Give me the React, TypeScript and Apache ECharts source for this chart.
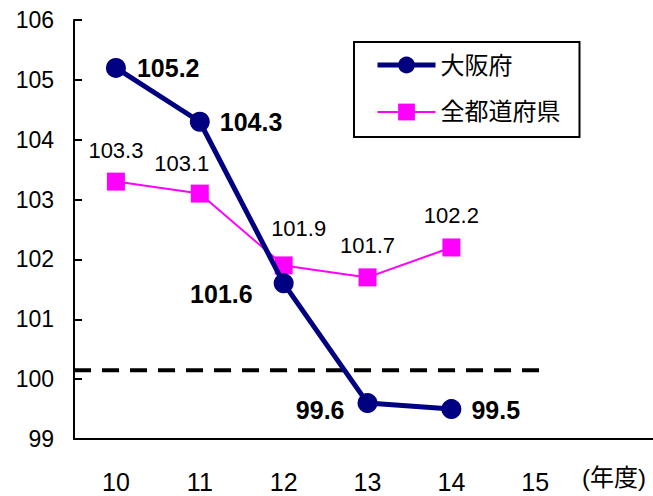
import React, { useEffect, useRef } from "react";
import * as echarts from "echarts";

const categories = ["10", "11", "12", "13", "14", "15"];
const osakaValues = [105.2, 104.3, 101.6, 99.6, 99.5];
const allPrefValues = [103.3, 103.1, 101.9, 101.7, 102.2];
const baselineValue = 100.15;
const baselineRange = [-0.5, 5.06];
const xRange = { min: -0.5, max: 6.404 };
const yTicks = { min: 99, max: 106, interval: 1 };

const osakaLabelPos: any[] = [
  { position: "right", distance: 11, offset: [0, 0] },
  { position: "right", distance: 10, offset: [0, 0] },
  { position: "left", distance: 21, offset: [0, 11] },
  { position: "left", distance: 13, offset: [0, 7] },
  { position: "right", distance: 10, offset: [0, 1] },
];
const prefLabelOffset: number[][] = [
  [0, 0],
  [-18, 1],
  [15, -6],
  [0, -1],
  [0, -1],
];

const FONT = '"Liberation Sans", Arial, "Noto Sans CJK JP", sans-serif';

export default function App() {
  const ref = useRef<HTMLDivElement>(null);
  useEffect(() => {
    if (!ref.current) return;
    const chart = echarts.init(ref.current, null, { renderer: "svg" });
    const idx = categories.map((_, i) => i);
    chart.setOption({
      animation: false,
      textStyle: { fontFamily: FONT },
      grid: { left: 74, top: 20, right: 0, height: 419 },
      legend: {
        left: 354,
        top: 42,
        orient: "vertical",
        itemWidth: 58,
        itemHeight: 21,
        itemGap: 23,
        padding: [11, 19, 13, 21],
        borderColor: "#000",
        borderWidth: 2,
        textStyle: { fontSize: 24, color: "#000", fontFamily: FONT },
        data: [
          { name: "大阪府", lineStyle: { width: 5 } },
          { name: "全都道府県", lineStyle: { width: 2 } },
        ],
      },
      xAxis: {
        type: "value",
        min: xRange.min,
        max: xRange.max,
        axisLine: { onZero: false, lineStyle: { color: "#000", width: 2 } },
        axisTick: { show: false },
        axisLabel: {
          fontSize: 25,
          color: "#000",
          margin: 30,
          customValues: idx,
          formatter: (v: number) => categories[Math.round(v)] ?? "",
        },
        splitLine: { show: false },
      },
      yAxis: {
        type: "value",
        min: yTicks.min,
        max: yTicks.max,
        interval: yTicks.interval,
        axisLine: { show: true, onZero: false, lineStyle: { color: "#000", width: 2 } },
        axisTick: { show: true, inside: true, length: 8, lineStyle: { color: "#000", width: 2 } },
        axisLabel: { fontSize: 23, color: "#000", margin: 20 },
        splitLine: { show: false },
      },
      graphic: [
        {
          type: "text",
          x: 614,
          y: 477,
          style: {
            text: "(年度)",
            fontSize: 24,
            fontFamily: FONT,
            fill: "#000",
            align: "center",
            verticalAlign: "middle",
          },
        },
      ],
      series: [
        {
          name: "基準",
          type: "line",
          data: baselineRange.map((x) => [x, baselineValue]),
          symbol: "none",
          lineStyle: { color: "#000", width: 4, type: [17, 11] },
          silent: true,
          z: 1,
        },
        {
          name: "全都道府県",
          type: "line",
          data: allPrefValues.map((v, i) => ({
            value: [i, v],
            label: { offset: prefLabelOffset[i] },
          })),
          symbol: "rect",
          symbolSize: 18,
          itemStyle: { color: "#FF00FF" },
          lineStyle: { color: "#FF00FF", width: 2 },
          label: {
            show: true,
            position: "top",
            distance: 11,
            fontSize: 22,
            color: "#000",
            fontFamily: FONT,
            formatter: (p: any) => String(p.value[1]),
          },
          z: 2,
        },
        {
          name: "大阪府",
          type: "line",
          data: osakaValues.map((v, i) => ({
            value: [i, v],
            label: osakaLabelPos[i],
          })),
          symbol: "circle",
          symbolSize: 20,
          itemStyle: { color: "#000080" },
          lineStyle: { color: "#000080", width: 5 },
          label: {
            show: true,
            fontSize: 25,
            fontWeight: "bold",
            color: "#000",
            fontFamily: FONT,
            formatter: (p: any) => String(p.value[1]),
          },
          z: 3,
        },
      ],
    });
    return () => chart.dispose();
  }, []);
  return (
    <div
      ref={ref}
      style={{ position: "absolute", left: 0, top: 0, width: 653, height: 496, background: "#fff" }}
    />
  );
}
